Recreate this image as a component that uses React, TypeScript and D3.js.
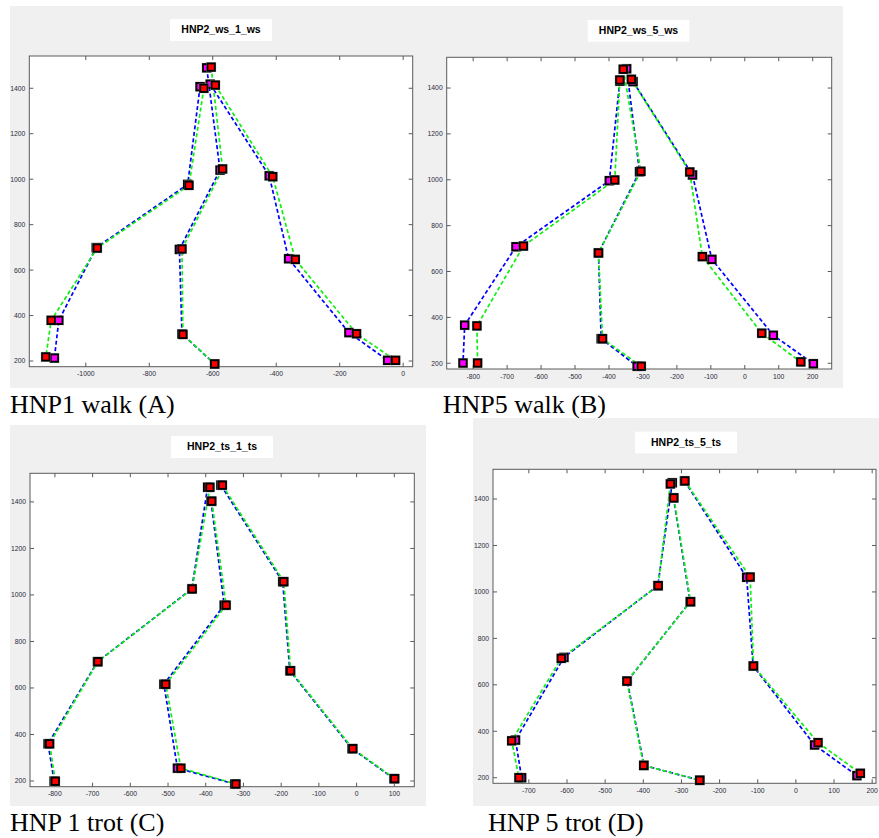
import * as d3 from "d3";

type Pt = [number, number];

// marker positions, one list per limb pose (top joint -> hoof)
const walk1Blue: Pt[][] = [
  [[-640, 1407], [-679, 977], [-967, 699], [-1085, 379], [-1099, 213]],
  [[-619, 1490], [-577, 1040], [-705, 691], [-697, 319], [-594, 187]],
  [[-608, 1418], [-422, 1015], [-361, 650], [-171, 325], [-49, 203]],
];
const walk1Green: Pt[][] = [
  [[-628, 1400], [-675, 973], [-964, 697], [-1109, 379], [-1126, 218]],
  [[-605, 1493], [-569, 1045], [-697, 693], [-694, 317], [-594, 187]],
  [[-592, 1414], [-411, 1011], [-340, 647], [-147, 320], [-24, 203]],
];

const walk5Blue: Pt[][] = [
  [[-368, 1430], [-399, 996], [-674, 708], [-825, 366], [-830, 201]],
  [[-348, 1484], [-310, 1035], [-431, 681], [-423, 307], [-317, 187]],
  [[-329, 1428], [-154, 1021], [-97, 653], [84, 322], [202, 198]],
];
const walk5Green: Pt[][] = [
  [[-368, 1435], [-383, 999], [-652, 711], [-789, 363], [-787, 201]],
  [[-358, 1482], [-306, 1037], [-431, 681], [-419, 307], [-305, 187]],
  [[-334, 1438], [-162, 1034], [-125, 665], [50, 331], [165, 206]],
];

const trot1Blue: Pt[][] = [
  [[-395, 1463], [-437, 1026], [-687, 713], [-818, 360], [-802, 199]],
  [[-386, 1403], [-351, 956], [-511, 616], [-475, 255], [-323, 187]],
  [[-360, 1472], [-196, 1057], [-177, 674], [-12, 339], [99, 210]],
];
const trot1Green: Pt[][] = [
  [[-389, 1463], [-436, 1026], [-686, 713], [-814, 360], [-799, 199]],
  [[-384, 1403], [-346, 956], [-506, 616], [-466, 255], [-320, 187]],
  [[-356, 1472], [-193, 1057], [-175, 674], [-10, 339], [101, 210]],
];

const trot5Blue: Pt[][] = [
  [[-324, 1470], [-362, 1027], [-608, 718], [-735, 362], [-719, 200]],
  [[-321, 1405], [-277, 958], [-442, 616], [-398, 253], [-252, 189]],
  [[-292, 1478], [-129, 1063], [-112, 681], [49, 341], [160, 209]],
];
const trot5Green: Pt[][] = [
  [[-329, 1465], [-361, 1027], [-615, 714], [-745, 359], [-726, 200]],
  [[-320, 1405], [-276, 958], [-443, 616], [-399, 253], [-252, 189]],
  [[-291, 1478], [-120, 1064], [-111, 681], [58, 351], [169, 219]],
];

const yTicks = [200, 400, 600, 800, 1000, 1200, 1400];
const walk1XTicks = [-1000, -800, -600, -400, -200, 0];
const walk5XTicks = [-800, -700, -600, -500, -400, -300, -200, -100, 0, 100, 200];
const trot1XTicks = [-800, -700, -600, -500, -400, -300, -200, -100, 0, 100];
const trot5XTicks = [-700, -600, -500, -400, -300, -200, -100, 0, 100, 200];

const titles = ["HNP2_ws_1_ws", "HNP2_ws_5_ws", "HNP2_ts_1_ts", "HNP2_ts_5_ts"];
const captions = ["HNP1 walk (A)", "HNP5 walk (B)", "HNP 1 trot (C)", "HNP 5 trot (D)"];

const panels = [
  {
    title: titles[0], caption: captions[0], blue: walk1Blue, green: walk1Green, xTicks: walk1XTicks,
    xDomain: [-1178, 30], yDomain: [175, 1542],
    bg: [10, 6, 425, 388], tb: [170, 19, 272, 41], box: [29.3, 56, 412.7, 366.7], cap: [10, 413],
  },
  {
    title: titles[1], caption: captions[1], blue: walk5Blue, green: walk5Green, xTicks: walk5XTicks,
    xDomain: [-878, 256], yDomain: [175, 1534],
    bg: [425, 6, 843, 388], tb: [587.7, 20, 689.3, 41.7], box: [446.7, 57.3, 831.7, 369], cap: [442.7, 413],
  },
  {
    title: titles[2], caption: captions[2], blue: trot1Blue, green: trot1Green, xTicks: trot1XTicks,
    xDomain: [-866, 153], yDomain: [175.5, 1523],
    bg: [10, 425, 426, 806], tb: [171, 436, 273, 458], box: [30, 473.3, 414.3, 786.7], cap: [10, 831],
  },
  {
    title: titles[3], caption: captions[3], blue: trot5Blue, green: trot5Green, xTicks: trot5XTicks,
    xDomain: [-794, 210], yDomain: [176, 1528],
    bg: [473, 418, 879, 806], tb: [635, 431.7, 737, 453.3], box: [493, 469.3, 876, 783.3], cap: [488, 831],
  },
];

function Marker({ cx, cy, fill }: { cx: number; cy: number; fill: string }) {
  return (
    <g>
      <rect x={cx - 5} y={cy - 5} width={10} height={10} fill="#9a9a9a" opacity={0.7} />
      <rect x={cx - 3.7} y={cy - 3.7} width={7.4} height={7.4} fill={fill} stroke="#000" strokeWidth={1.9} />
    </g>
  );
}

function Panel({ p }: { p: any }) {
  const [x0, y0, x1, y1] = p.box;
  const x = d3.scaleLinear().domain(p.xDomain).range([x0, x1]);
  const y = d3.scaleLinear().domain(p.yDomain).range([y1, y0]);
  const line = d3.line<Pt>().x((d) => x(d[0])).y((d) => y(d[1]));
  const tick = 4;
  const lbl = { fontFamily: "Liberation Sans, Arial, sans-serif", fontSize: 6.8, fill: "#2a2a3a" };

  return (
    <g>
      <rect x={p.bg[0]} y={p.bg[1]} width={p.bg[2] - p.bg[0]} height={p.bg[3] - p.bg[1]} fill="#f0f0f0" />
      <rect x={p.tb[0]} y={p.tb[1]} width={p.tb[2] - p.tb[0]} height={p.tb[3] - p.tb[1]} fill="#fff" />
      <text
        x={(p.tb[0] + p.tb[2]) / 2}
        y={(p.tb[1] + p.tb[3]) / 2 + 3}
        textAnchor="middle"
        fontFamily="Liberation Sans, Arial, sans-serif"
        fontWeight="bold"
        fontSize={10.5}
      >
        {p.title}
      </text>
      <rect x={x0} y={y0} width={x1 - x0} height={y1 - y0} fill="#fff" stroke="#5a5a5a" strokeWidth={1} />

      {p.xTicks.map((t: number) => (
        <g key={"x" + t}>
          <line x1={x(t)} x2={x(t)} y1={y1} y2={y1 - tick} stroke="#5a5a5a" />
          <line x1={x(t)} x2={x(t)} y1={y0} y2={y0 + tick} stroke="#5a5a5a" />
          <text x={x(t)} y={y1 + 9.5} textAnchor="middle" {...lbl}>
            {t}
          </text>
        </g>
      ))}
      {yTicks.map((t) => (
        <g key={"y" + t}>
          <line x1={x0} x2={x0 + tick} y1={y(t)} y2={y(t)} stroke="#5a5a5a" />
          <line x1={x1} x2={x1 - tick} y1={y(t)} y2={y(t)} stroke="#5a5a5a" />
          <text x={x0 - 4} y={y(t) + 2.4} textAnchor="end" {...lbl}>
            {t}
          </text>
        </g>
      ))}

      {p.blue.map((c: Pt[], i: number) => (
        <path key={"bl" + i} d={line(c) || ""} fill="none" stroke="#0000ff" strokeWidth={1.7} strokeDasharray="4 2.5" />
      ))}
      {p.green.map((c: Pt[], i: number) => (
        <path key={"gl" + i} d={line(c) || ""} fill="none" stroke="#11ee11" strokeWidth={1.7} strokeDasharray="4 2.5" />
      ))}
      {p.blue.flat().map((d: Pt, i: number) => (
        <Marker key={"bm" + i} cx={x(d[0])} cy={y(d[1])} fill="#ff00ff" />
      ))}
      {p.green.flat().map((d: Pt, i: number) => (
        <Marker key={"gm" + i} cx={x(d[0])} cy={y(d[1])} fill="#ff0000" />
      ))}

      <text x={p.cap[0]} y={p.cap[1]} fontFamily="Liberation Serif, Times New Roman, serif" fontSize={26} fill="#000">
        {p.caption}
      </text>
    </g>
  );
}

export default function App() {
  return (
    <svg width={879} height={838} style={{ position: "absolute", left: 0, top: 0, background: "#fff" }}>
      {panels.map((p, i) => (
        <Panel key={i} p={p} />
      ))}
    </svg>
  );
}
